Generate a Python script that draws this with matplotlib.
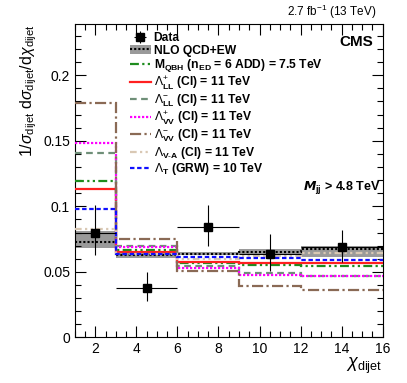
import matplotlib
matplotlib.use('Agg')
import matplotlib.pyplot as plt
from matplotlib.patches import Patch
from matplotlib.lines import Line2D
from matplotlib.ticker import MultipleLocator

# ---------------- data ----------------
edges = [1, 3, 6, 9, 12, 16]
data_x = [2, 4.5, 7.5, 10.5, 14]
data_xerr = [1, 1.5, 1.5, 1.5, 2]
data_y = [0.080, 0.0376, 0.0841, 0.0637, 0.0693]
data_err_up = [0.021, 0.012, 0.017, 0.015, 0.013]
data_err_dn = [0.017, 0.0095, 0.014, 0.013, 0.0115]

nlo_central = [0.0725, 0.0625, 0.0640, 0.0655, 0.0676]
nlo_low = [0.068, 0.0605, 0.0630, 0.0630, 0.0617]
nlo_high = [0.081, 0.0643, 0.0650, 0.0673, 0.0698]

qbh = [0.119, 0.0668, 0.0571, 0.0553, 0.0548]
ll_plus = [0.1134, 0.0650, 0.0576, 0.0569, 0.0571]
ll_minus = [0.1406, 0.0700, 0.0548, 0.0495, 0.0469]
vv_plus = [0.148, 0.0686, 0.0528, 0.0477, 0.0469]
vv_minus = [0.179, 0.0750, 0.0505, 0.0396, 0.0363]
va = [0.083, 0.0640, 0.0600, 0.0620, 0.0647]
grw = [0.0979, 0.0635, 0.0617, 0.0609, 0.0592]

labels = [
    "Data",
    "NLO QCD+EW",
    r"M$_{\mathbf{QBH}}$ (n$_{\mathbf{ED}}$ = 6 ADD) = 7.5 TeV",
    r"$\Lambda_{\mathbf{LL}}^{+}$ (CI) = 11 TeV",
    r"$\Lambda_{\mathbf{LL}}^{-}$ (CI) = 11 TeV",
    r"$\Lambda_{\mathbf{VV}}^{+}$ (CI) = 11 TeV",
    r"$\Lambda_{\mathbf{VV}}^{-}$ (CI) = 11 TeV",
    r"$\Lambda_{\mathbf{V\text{-}A}}$ (CI) = 11 TeV",
    r"$\Lambda_{\mathbf{T}}$ (GRW) = 10 TeV",
]

plt.rcParams['font.family'] = ['Liberation Sans', 'DejaVu Sans']
plt.rcParams['mathtext.fontset'] = 'custom'
plt.rcParams['mathtext.rm'] = 'Liberation Sans'
plt.rcParams['mathtext.it'] = 'Liberation Sans:italic'
plt.rcParams['mathtext.bf'] = 'Liberation Sans:bold'

fig = plt.figure(figsize=(4.07, 3.83), dpi=100)
ax = fig.add_axes([0.184, 0.119, 0.756, 0.818])

# NLO band
ax.stairs(nlo_high, edges, baseline=nlo_low, fill=True, color='#9a9a9a', lw=0, zorder=1)
ax.stairs(nlo_central, edges, baseline=None, color='black', lw=1.5, ls=(0, (1, 1)), zorder=2)

styles = [
    (qbh, '#1e8c1e', (0, (4, 1.5, 1, 1.5, 1, 1.5))),
    (ll_plus, '#ff2020', '-'),
    (ll_minus, '#6f8f78', (0, (3, 2))),
    (vv_plus, '#ff00ff', (0, (1, 0.8))),
    (vv_minus, '#8a6a55', (0, (5, 1.5, 1, 1.5))),
    (va, '#d9c8b4', (0, (3, 1.5, 1, 1.5, 1, 1.5))),
    (grw, '#1010ff', (0, (2, 1.2))),
]
handles = []
for vals, col, ls in styles:
    ax.stairs(vals, edges, baseline=None, color=col, lw=1.6, ls=ls, zorder=3)
    handles.append(Line2D([], [], color=col, lw=1.6, ls=ls))

yerr = [data_err_dn, data_err_up]
eb = ax.errorbar(data_x, data_y, xerr=data_xerr, yerr=yerr, fmt='s', color='black',
                 ms=6, elinewidth=0.8, capsize=0, zorder=5)

nlo_handle = (Patch(facecolor='#9a9a9a', edgecolor='none'),
              Line2D([], [], color='black', lw=1.5, ls=(0, (1, 1))))
all_handles = [eb, nlo_handle] + handles
leg = ax.legend(all_handles, labels, loc='upper left', bbox_to_anchor=(0.152, 1.0),
                frameon=False, prop={'weight': 'bold', 'size': 8.7},
                handlelength=1.8, handletextpad=0.2, labelspacing=0.05,
                borderaxespad=0.25)

ax.set_xlim(1, 16)
ax.set_ylim(0, 0.239)
ax.xaxis.set_major_locator(MultipleLocator(2))
ax.xaxis.set_minor_locator(MultipleLocator(0.5))
ax.yaxis.set_major_locator(MultipleLocator(0.05))
ax.yaxis.set_minor_locator(MultipleLocator(0.01))
ax.set_yticks([0, 0.05, 0.1, 0.15, 0.2])
ax.set_yticklabels(['0', '0.05', '0.1', '0.15', '0.2'])
ax.tick_params(which='both', direction='in', top=True, right=True, labelsize=10)
ax.tick_params(which='major', length=8, width=0.8)
ax.tick_params(which='minor', length=4, width=0.8)
for s in ax.spines.values():
    s.set_linewidth(0.8)

ax.set_xlabel(r"$\chi_{\mathrm{dijet}}$", fontsize=13, loc='right', labelpad=0)
ax.set_ylabel(r"1/$\sigma_{\mathrm{dijet}}$ d$\sigma_{\mathrm{dijet}}$/d$\chi_{\mathrm{dijet}}$",
              fontsize=11.5, loc='top')
ax.yaxis.set_label_coords(-0.118, 1.0)

fig.text(0.925, 0.945, r"2.7 fb$^{-1}$ (13 TeV)", ha='right', va='bottom', fontsize=8.5)
ax.text(0.97, 0.965, "CMS", transform=ax.transAxes, ha='right', va='top',
        fontsize=11, fontweight='bold')
ax.text(0.993, 0.48, r"$\mathbfit{M}_{\mathbf{jj}}$ > 4.8 TeV", transform=ax.transAxes,
        ha='right', va='center', fontsize=9, fontweight='bold')

fig.savefig('out.png', dpi=100)
